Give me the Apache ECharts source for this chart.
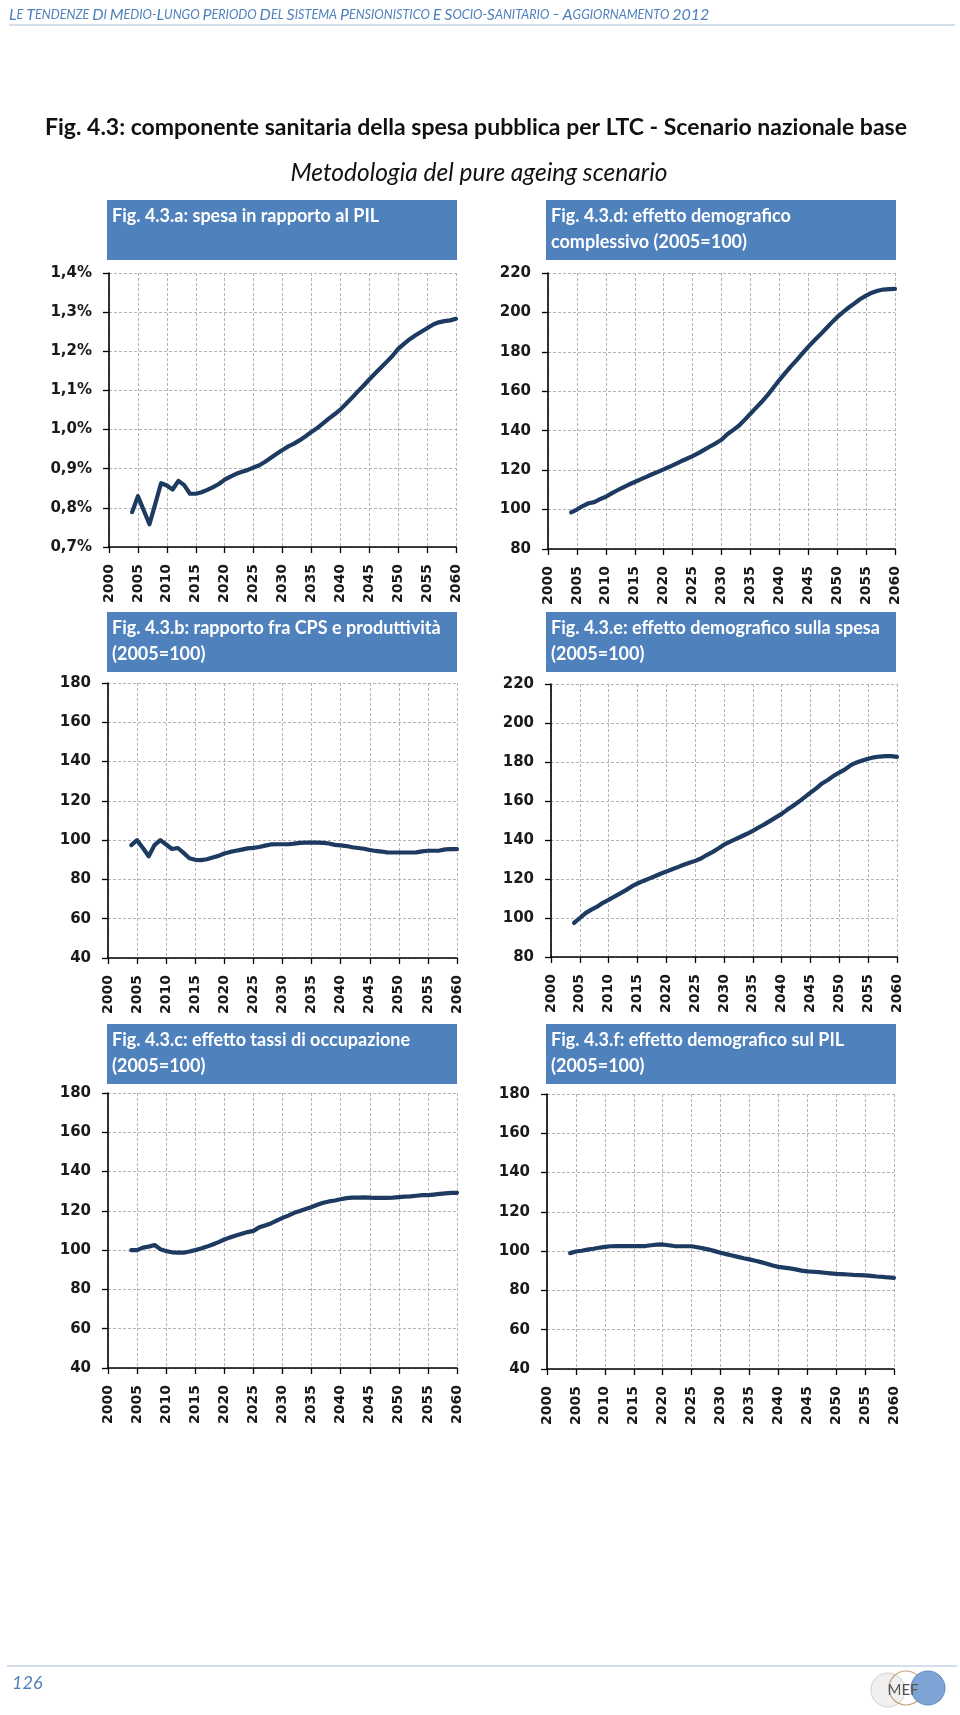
<!DOCTYPE html>
<html><head><meta charset="utf-8">
<script src="https://cdn.jsdelivr.net/npm/echarts@6/dist/echarts.min.js"></script>
<style>html,body{margin:0;padding:0;background:#fff}#c{width:960px;height:1715px}</style>
</head><body><div id="c"></div>
<script>
// ---------- DATA ----------
const years = [2004,2005,2006,2007,2008,2009,2010,2011,2012,2013,2014,2015,2016,2017,2018,2019,
  2020,2021,2022,2023,2024,2025,2026,2027,2028,2029,2030,2031,2032,2033,2034,2035,2036,2037,2038,2039,
  2040,2041,2042,2043,2044,2045,2046,2047,2048,2049,2050,2051,2052,2053,2054,2055,2056,2057,2058,2059,2060];

// Fig. 4.3.a: spesa in rapporto al PIL (%)
const spesaPil = [0.789,0.830,0.794,0.758,0.810,0.863,0.857,0.847,0.869,0.858,0.836,0.836,0.840,0.846,0.853,0.861,
  0.872,0.880,0.887,0.892,0.897,0.903,0.909,0.918,0.928,0.938,0.948,0.957,0.964,0.973,0.983,0.994,1.004,1.016,1.028,1.039,
  1.051,1.066,1.081,1.097,1.112,1.128,1.143,1.158,1.173,1.188,1.206,1.219,1.231,1.241,1.250,1.259,1.268,1.274,1.277,1.279,1.283];

// Fig. 4.3.b: rapporto fra CPS e produttività (2005=100)
const cpsProd = [97.5,100,96,91.8,97.5,100,97.8,95.5,96,93.5,90.8,90,89.8,90.3,91.2,92,
  93.2,94,94.6,95.2,95.8,96.1,96.5,97.2,97.8,97.9,97.9,97.9,98.2,98.6,98.7,98.7,98.7,98.6,98.3,97.6,
  97.3,97,96.4,96,95.6,95,94.5,94.2,93.8,93.7,93.7,93.7,93.7,93.8,94.3,94.6,94.6,94.7,95.3,95.4,95.4];

// Fig. 4.3.c: effetto tassi di occupazione (2005=100)
const tassiOcc = [100,100,101.3,101.8,102.6,100.5,99.5,98.9,98.7,98.7,99.3,100,100.8,101.8,102.9,104.1,
  105.4,106.5,107.4,108.3,109.2,109.8,111.6,112.6,113.6,115,116.4,117.6,119,119.9,121,122,123.1,124.1,124.8,125.3,
  125.9,126.5,126.7,126.7,126.9,126.7,126.6,126.6,126.6,126.7,127,127.2,127.4,127.7,128,128,128.3,128.6,128.9,129.2,129.2];

// Fig. 4.3.d: effetto demografico complessivo (2005=100)
const demoTot = [98.6,100,101.8,103.2,103.8,105.3,106.5,108.2,109.8,111.3,112.7,114,115.3,116.6,117.9,119.1,
  120.4,121.7,123.1,124.5,125.8,127.1,128.6,130.3,132,133.6,135.4,138.2,140.3,142.5,145.5,148.6,151.7,154.8,158.2,161.9,
  165.7,169.2,172.6,175.8,179.2,182.5,185.6,188.5,191.6,194.7,197.6,200.1,202.5,204.6,206.8,208.5,210,211,211.6,211.8,211.9];

// Fig. 4.3.e: effetto demografico sulla spesa (2005=100)
const demoSpesa = [97.5,100,102.5,104.3,105.8,107.8,109.3,111,112.6,114.3,116.2,117.7,119,120.2,121.4,122.7,
  123.8,125,126.1,127.3,128.3,129.3,130.5,132.3,133.8,135.6,137.6,139,140.4,141.8,143.2,144.7,146.4,148,149.8,151.6,
  153.4,155.6,157.6,159.7,162,164.3,166.5,169,170.8,172.9,174.6,176.2,178.4,179.8,180.8,181.7,182.4,182.8,183,183,182.6];

// Fig. 4.3.f: effetto demografico sul PIL (2005=100)
const demoPil = [99,99.8,100.2,100.8,101.2,101.7,102.2,102.5,102.6,102.6,102.6,102.6,102.6,102.6,103,103.3,
  103.4,103,102.6,102.5,102.5,102.5,102,101.4,100.8,100,99.2,98.5,97.8,97.1,96.4,95.8,95.1,94.4,93.6,92.7,
  92,91.6,91.2,90.7,90.1,89.7,89.5,89.3,89,88.7,88.4,88.3,88.1,87.9,87.8,87.7,87.4,87.1,86.9,86.6,86.4];

const xAxisRange = {min: 2000, max: 2060, interval: 5};
const yRanges = {
  a: {min: 0.7, max: 1.4, interval: 0.1},
  b: {min: 40, max: 180, interval: 20},
  c: {min: 40, max: 180, interval: 20},
  d: {min: 80, max: 220, interval: 20},
  e: {min: 80, max: 220, interval: 20},
  f: {min: 40, max: 180, interval: 20}
};
const panelTitles = {
  a: ['Fig. 4.3.a: spesa in rapporto al PIL'],
  b: ['Fig. 4.3.b: rapporto fra CPS e produttività', '(2005=100)'],
  c: ['Fig. 4.3.c: effetto tassi di occupazione', '(2005=100)'],
  d: ['Fig. 4.3.d: effetto demografico', 'complessivo (2005=100)'],
  e: ['Fig. 4.3.e: effetto demografico sulla spesa', '(2005=100)'],
  f: ['Fig. 4.3.f: effetto demografico sul PIL', '(2005=100)']
};
const mainTitle = 'Fig. 4.3: componente sanitaria della spesa pubblica per LTC - Scenario nazionale base';
const subTitle = 'Metodologia del pure ageing scenario';
const headerText = 'Le tendenze di medio-lungo periodo del sistema pensionistico e socio-sanitario – Aggiornamento 2012';
const pageNumber = '126';

// ---------- LAYOUT ----------
const panels = [
  {key:'a', data: spesaPil,  grid:{left:109, top:273, width:347, height:274}, box:{x:107, y:200}, pct:true},
  {key:'d', data: demoTot,   grid:{left:548, top:273, width:347, height:276}, box:{x:546, y:200}},
  {key:'b', data: cpsProd,   grid:{left:108, top:683, width:349, height:275}, box:{x:107, y:612}},
  {key:'e', data: demoSpesa, grid:{left:551, top:684, width:346, height:273}, box:{x:546, y:612}},
  {key:'c', data: tassiOcc,  grid:{left:108, top:1093, width:349, height:275}, box:{x:107, y:1024}},
  {key:'f', data: demoPil,   grid:{left:547, top:1094, width:347, height:275}, box:{x:546, y:1024}}
];

const LINE_COLOR = '#1d3a60';
const BOX_COLOR = '#4f81bd';
const TICK_FONT = 'DejaVu Sans';
const gridLine = {show:true, lineStyle:{color:'#b4b4b4', type:[3,2], width:1}};

const grids = [], xAxes = [], yAxes = [], series = [], graphics = [];
panels.forEach((p, i) => {
  grids.push(Object.assign({containLabel:false}, p.grid));
  xAxes.push({
    type:'value', gridIndex:i, min:xAxisRange.min, max:xAxisRange.max, interval:xAxisRange.interval,
    axisLine:{show:true, onZero:false, lineStyle:{color:'#000', width:1.6}},
    axisTick:{show:true, inside:false, length:6, lineStyle:{color:'#000', width:1.3}},
    axisLabel:{show:true, rotate:90, margin:17, showMinLabel:true, showMaxLabel:true,
      fontFamily:TICK_FONT, fontWeight:'bold', fontSize:14, color:'#1a1a1a',
      formatter: v => String(v)},
    splitLine:gridLine
  });
  const yr = yRanges[p.key];
  yAxes.push({
    type:'value', gridIndex:i, min:yr.min, max:yr.max, interval:yr.interval,
    axisLine:{show:true, onZero:false, lineStyle:{color:'#000', width:1.6}},
    axisTick:{show:true, inside:false, length:6, lineStyle:{color:'#000', width:1.3}},
    axisLabel:{show:true, margin:17, showMinLabel:true, showMaxLabel:true,
      fontFamily:TICK_FONT, fontWeight:'bold', fontSize:15, color:'#1a1a1a',
      formatter: p.pct ? (v => v.toFixed(1).replace('.', ',') + '%') : (v => String(Math.round(v)))},
    splitLine:gridLine
  });
  series.push({
    type:'line', xAxisIndex:i, yAxisIndex:i, symbol:'none', smooth:false,
    lineStyle:{color:LINE_COLOR, width:4.2, cap:'round', join:'round'},
    data: years.map((y, k) => [y, p.data[k]])
  });
  // title box
  graphics.push({type:'rect', left:p.box.x, top:p.box.y, shape:{width:350, height:60}, style:{fill:BOX_COLOR}, z:1});
  panelTitles[p.key].forEach((t, j) => {
    graphics.push({type:'text', x:p.box.x + 5, y:p.box.y + 16 + j*26, z:2,
      style:{text:t, fill:'#fff', font:'bold 18px Lato', textAlign:'left', textVerticalAlign:'middle'}});
  });
});

// header with small caps
function smallCapsRich(s){
  let out = '', cur = null, buf = '', prev = ' ';
  const flush = () => { if (buf) out += '{' + cur + '|' + buf + '}'; buf = ''; };
  for (const ch of s){
    const isLetter = /[A-Za-zÀ-ÿ]/.test(ch);
    const big = (isLetter && /[\s\-–]/.test(prev)) || /[0-9]/.test(ch);
    const st = big ? 'b' : 's';
    if (st !== cur){ flush(); cur = st; }
    buf += ch.toUpperCase();
    prev = ch;
  }
  flush();
  return out;
}
graphics.push({type:'text', x:9, y:15, style:{
  text: smallCapsRich(headerText), textVerticalAlign:'middle', textAlign:'left',
  rich:{
    b:{fontFamily:'Lato', fontStyle:'italic', fontSize:16, fill:'#4f81bd', color:'#4f81bd'},
    s:{fontFamily:'Lato', fontStyle:'italic', fontSize:12.6, fill:'#4f81bd', color:'#4f81bd'}
  }}});
graphics.push({type:'line', shape:{x1:9, y1:25, x2:955, y2:25}, style:{stroke:'#a6bfd6', lineWidth:1}});

graphics.push({type:'text', x:476, y:128, style:{text:mainTitle, font:'bold 23px Lato', fill:'#111', textAlign:'center', textVerticalAlign:'middle'}});
graphics.push({type:'text', x:479, y:173, style:{text:subTitle, font:'italic 24.5px Lato', fill:'#111', textAlign:'center', textVerticalAlign:'middle'}});

// footer
graphics.push({type:'line', shape:{x1:7, y1:1666, x2:957, y2:1666}, style:{stroke:'#a6bfd6', lineWidth:1}});
graphics.push({type:'text', x:12, y:1683, style:{text:pageNumber, font:'italic 18px Lato', fill:'#4f81bd', textAlign:'left', textVerticalAlign:'middle'}});
// logo (approximation)
graphics.push({type:'circle', shape:{cx:888, cy:1690, r:17}, style:{fill:'#f0f0f0', stroke:'#d0d0d0', lineWidth:1}});
graphics.push({type:'circle', shape:{cx:906, cy:1688, r:17}, style:{fill:'none', stroke:'#c8a27a', lineWidth:1.2}});
graphics.push({type:'circle', shape:{cx:928, cy:1688, r:17}, style:{fill:'#7ea4d6', stroke:'#5f88c0', lineWidth:1}});
graphics.push({type:'text', x:903, y:1690, style:{text:'MEF', font:'15px Lato', fill:'#555', textAlign:'center', textVerticalAlign:'middle'}});

const chart = echarts.init(document.getElementById('c'), null, {renderer:'canvas', width:960, height:1715});
chart.setOption({
  animation:false,
  backgroundColor:'#fff',
  grid:grids, xAxis:xAxes, yAxis:yAxes, series:series, graphic:graphics
});
</script>
</body></html>
